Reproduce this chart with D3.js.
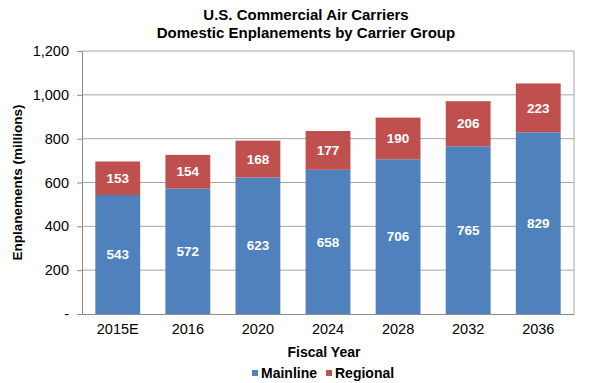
<!DOCTYPE html>
<html>
<head>
<meta charset="utf-8">
<script src="https://cdn.jsdelivr.net/npm/d3@7"></script>
<style>
  body { margin: 0; background: #fff; }
  text { font-family: "Liberation Sans", Arial, sans-serif; }
</style>
</head>
<body>
<div id="chart"></div>
<script>
// data
let years = ["2015E", "2016", "2020", "2024", "2028", "2032", "2036"]
let mainline = [543, 572, 623, 658, 706, 765, 829]
let regional = [153, 154, 168, 177, 190, 206, 223]
let yTicks = [0, 200, 400, 600, 800, 1000, 1200]

let width = 600, height = 383
let margin = {top: 51, right: 26, bottom: 69, left: 82}

let svg = d3.select("#chart").append("svg")
  .attr("width", width)
  .attr("height", height)

let x = d3.scaleBand()
  .domain(years)
  .range([margin.left, width - margin.right])
  .paddingInner(0.36)
  .paddingOuter(0.19)

let y = d3.scaleLinear()
  .domain([0, 1200])
  .range([height - margin.bottom, margin.top])

// gridlines
svg.append("g")
  .selectAll("line")
  .data(yTicks.slice(1))
  .enter()
  .append("line")
  .attr("x1", margin.left)
  .attr("x2", width - margin.right)
  .attr("y1", d => y(d))
  .attr("y2", d => y(d))
  .style("stroke", "#a6a6a6")
  .style("stroke-width", 1)

// right border of plot
svg.append("line")
  .attr("x1", width - margin.right).attr("x2", width - margin.right)
  .attr("y1", y(1200)).attr("y2", y(0))
  .style("stroke", "#a6a6a6")

// y axis
let yAxis = d3.axisLeft(y)
  .tickValues(yTicks)
  .tickSize(5)
  .tickPadding(8)
  .tickFormat(d => d === 0 ? "-" : d3.format(",")(d))

let gy = svg.append("g")
  .attr("transform", `translate(${margin.left},0)`)
  .call(yAxis)
gy.select(".domain").style("stroke", "#8c8c8c")
gy.selectAll(".tick line").style("stroke", "#8c8c8c")
gy.selectAll("text")
  .style("font-size", "14.5px")
  .style("fill", "#000")

// x axis
let xAxis = d3.axisBottom(x).tickSize(0).tickPadding(10)
let gx = svg.append("g")
  .attr("transform", `translate(0,${y(0)})`)
  .call(xAxis)
gx.select(".domain").style("stroke", "#8c8c8c")
gx.selectAll("text")
  .style("font-size", "14.5px")
  .style("fill", "#000")

// bars
let stacked = years.map((yr, i) => ({year: yr, main: mainline[i], reg: regional[i]}))

let bars = svg.append("g")
  .selectAll("g")
  .data(stacked)
  .enter()
  .append("g")

bars.append("rect")
  .attr("x", d => x(d.year))
  .attr("width", x.bandwidth())
  .attr("y", d => y(d.main))
  .attr("height", d => y(0) - y(d.main))
  .style("fill", "#4f81bd")

bars.append("rect")
  .attr("x", d => x(d.year))
  .attr("width", x.bandwidth())
  .attr("y", d => y(d.main + d.reg))
  .attr("height", d => y(d.main) - y(d.main + d.reg))
  .style("fill", "#c0504d")

bars.append("text")
  .attr("x", d => x(d.year) + x.bandwidth() / 2)
  .attr("y", d => (y(0) + y(d.main)) / 2)
  .attr("dy", "0.35em")
  .attr("text-anchor", "middle")
  .style("font-size", "13.5px")
  .style("font-weight", "bold")
  .style("fill", "#fff")
  .text(d => d.main)

bars.append("text")
  .attr("x", d => x(d.year) + x.bandwidth() / 2)
  .attr("y", d => (y(d.main) + y(d.main + d.reg)) / 2)
  .attr("dy", "0.35em")
  .attr("text-anchor", "middle")
  .style("font-size", "13.5px")
  .style("font-weight", "bold")
  .style("fill", "#fff")
  .text(d => d.reg)

// titles
let title = svg.append("text")
  .attr("text-anchor", "middle")
  .style("font-size", "15px")
  .style("font-weight", "bold")
title.append("tspan").attr("x", 306).attr("y", 20).text("U.S. Commercial Air Carriers")
title.append("tspan").attr("x", 306).attr("y", 38).text("Domestic Enplanements by Carrier Group")

svg.append("text")
  .attr("transform", `translate(22,${(y(0) + y(1200)) / 2}) rotate(-90)`)
  .attr("text-anchor", "middle")
  .style("font-size", "13.5px")
  .style("font-weight", "bold")
  .text("Enplanements (millions)")

svg.append("text")
  .attr("x", 324)
  .attr("y", 357)
  .attr("text-anchor", "middle")
  .style("font-size", "14px")
  .style("font-weight", "bold")
  .text("Fiscal Year")

// legend
let legendItems = [{name: "Mainline", color: "#4f81bd", x: 252}, {name: "Regional", color: "#c0504d", x: 326}]
let legend = svg.append("g")
  .selectAll("g")
  .data(legendItems)
  .enter()
  .append("g")
  .attr("transform", d => `translate(${d.x},378)`)

legend.append("rect")
  .attr("x", 0).attr("y", -8)
  .attr("width", 6).attr("height", 6)
  .style("fill", d => d.color)

legend.append("text")
  .attr("x", 9)
  .attr("y", 0)
  .style("font-size", "14px")
  .style("font-weight", "bold")
  .text(d => d.name)
</script>
</body>
</html>
